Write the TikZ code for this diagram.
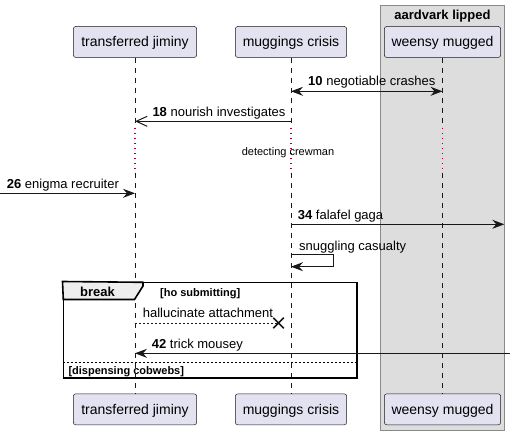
\documentclass[tikz,border=0pt]{standalone}
\usepackage{fontspec}
\setmainfont{Liberation Sans}
\usetikzlibrary{arrows.meta,shapes.misc}
\definecolor{partfill}{HTML}{E2E2F0}
\definecolor{linec}{HTML}{181818}
\definecolor{boxfill}{HTML}{DDDDDD}
\definecolor{boxdraw}{HTML}{8A8A8A}
\definecolor{delayc}{HTML}{A80036}
\definecolor{tabfill}{HTML}{EEEEEE}
\begin{document}
\begin{tikzpicture}[x=1pt,y=-1pt,
  part/.style={draw=linec, line width=0.5pt, fill=partfill, rounded corners=2.5pt,
    font=\fontsize{14}{16}\selectfont, text height=12pt, text depth=2pt,
    minimum height=31pt, inner sep=0pt},
  life/.style={draw=linec, line width=0.5pt, dash pattern=on 5pt off 5pt},
  delay/.style={draw=delayc, line width=1.2pt, dash pattern=on 1.2pt off 3.8pt},
  msg/.style={draw=linec, line width=1pt},
  tipf/.tip={Stealth[length=12pt,width=9pt,inset=4pt]},
  tipo/.tip={Straight Barb[length=11pt,width=10pt,line width=1pt]},
  lbl/.style={anchor=base west, inner sep=0pt, font=\fontsize{13}{15}\selectfont},
  small/.style={anchor=base, inner sep=0pt, font=\fontsize{11}{13}\selectfont},
  frlbl/.style={anchor=base west, inner sep=0pt, font=\fontsize{11}{13}\selectfont\bfseries},
]
\useasboundingbox (0,0) rectangle (510,435);
% group box
\node[draw=boxdraw, fill=boxfill, line width=1pt, minimum width=123.6pt, minimum height=424pt, inner sep=0pt] (grp) at (442.5,218) {};
\node[anchor=base, inner sep=0pt, font=\fontsize{13}{15}\selectfont\bfseries] (grpt) at (442.5,19.5) {aardvark lipped};
% participants
\node[part, minimum width=123.4pt] (tjT) at (135,42) {transferred jiminy};
\node[part, minimum width=111.4pt] (mcT) at (291,42) {muggings crisis};
\node[part, minimum width=116.4pt] (wmT) at (442.5,42) {weensy mugged};
\node[part, minimum width=123.4pt] (tjB) at (135,409.3) {transferred jiminy};
\node[part, minimum width=111.4pt] (mcB) at (291,409.3) {muggings crisis};
\node[part, minimum width=116.4pt] (wmB) at (442.5,409.3) {weensy mugged};
% y levels
\coordinate (yd1) at (0,128);
\coordinate (yd2) at (0,173);
\coordinate (y10) at (0,91.3);
\coordinate (y18) at (0,121.3);
\coordinate (left26) at (0,193.3);
\coordinate (y34) at (0,224.3);
\coordinate (right34) at (504.3,224.3);
\coordinate (ys1) at (0,254.3);
\coordinate (ys2) at (0,266.7);
\coordinate (r42) at (510,353.3);
\coordinate (ysep) at (0,362);
% lifelines
\foreach \p in {tj,mc,wm}{
  \draw[life] (\p T.south) -- (\p T.south |- yd1);
  \draw[delay] (\p T.south |- yd1) -- (\p T.south |- yd2);
  \draw[life] (\p T.south |- yd2) -- (\p B.north);
}
% messages
\draw[msg, tipf-tipf] (mcT.south |- y10) -- (wmT.south |- y10);
\node[lbl] (l10) at (308,86) {\textbf{10} negotiable crashes};
\draw[msg, -tipo] (mcT.south |- y18) -- (tjT.south |- y18);
\node[lbl] (l18) at (152.3,117) {\textbf{18} nourish investigates};
\node[small] (ldelay) at (288,155.3) {detecting crewman};
\draw[msg, -tipf] (left26) -- (tjT.south |- left26);
\node[lbl] (l26) at (6.7,189) {\textbf{26} enigma recruiter};
\draw[msg, -tipf] (mcT.south |- y34) -- (right34);
\node[lbl] (l34) at (297.7,219.5) {\textbf{34} falafel gaga};
\node[lbl] (lself) at (299,250.5) {snuggling casualty};
\draw[msg, -tipf] (mcT.south |- ys1) -- ++(42.6,0) -- ++(0,12.4) -- (mcT.south |- ys2);
% break frame
\node[draw=black, line width=1.6pt, minimum width=293.4pt, minimum height=95.4pt, inner sep=0pt] (brk) at (210,330) {};
\draw[fill=tabfill, draw=black, line width=1.6pt] (brk.north west) -- (143,282.3) -- (143,286) -- (134.5,299.5) -- (63.3,299.5) -- cycle;
\node[anchor=base, inner sep=0pt, font=\fontsize{13}{15}\selectfont\bfseries] (brkt) at (97.5,296.5) {break};
\node[frlbl] (cond1) at (160,296.5) {[ho submitting]};
\node[cross out, draw=linec, line width=1.5pt, minimum size=9pt, inner sep=0pt] (xnode) at (278.5,323) {};
\draw[draw=linec, line width=0.7pt, dash pattern=on 2pt off 2pt] (tjT.south |- xnode) -- (xnode.center);
\node[lbl] (lhal) at (142.7,317.5) {hallucinate attachment};
\draw[msg, -tipf] (r42) -- (tjT.south |- r42);
\node[lbl] (l42) at (151.7,348.5) {\textbf{42} trick mousey};
\draw[draw=black, line width=0.7pt, dash pattern=on 2pt off 2pt] (brk.west |- ysep) -- (brk.east |- ysep);
\node[frlbl] (cond2) at (68.3,374) {[dispensing cobwebs]};
\end{tikzpicture}
\end{document}
